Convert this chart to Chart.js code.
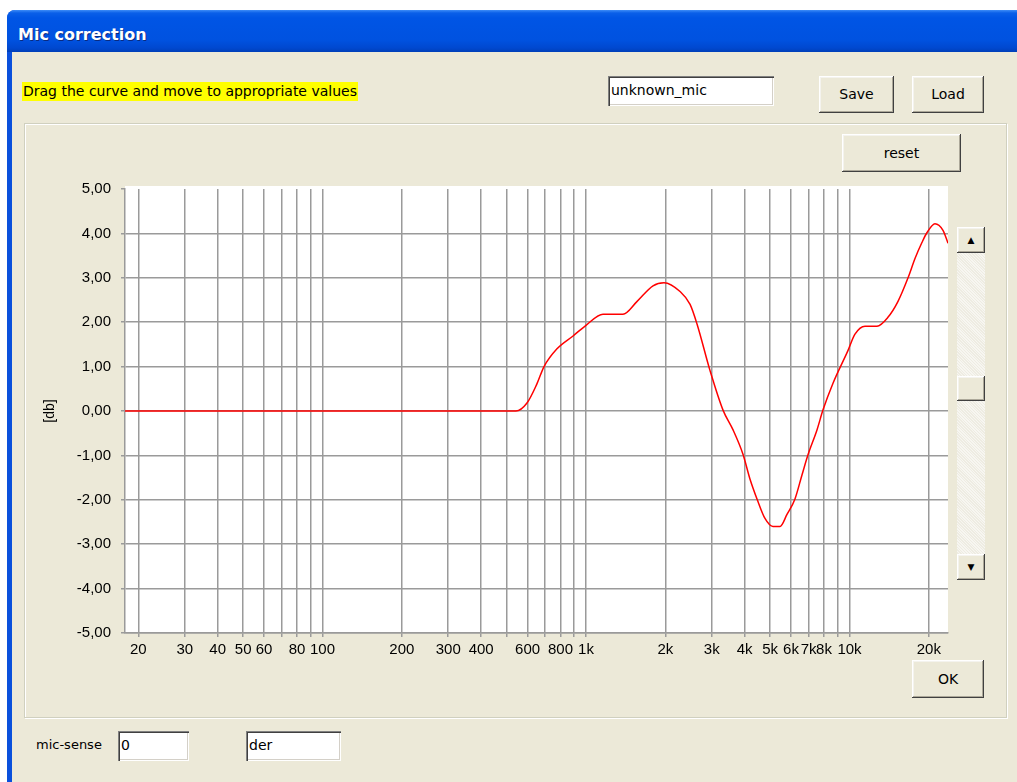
<!DOCTYPE html>
<html>
<head>
<meta charset="utf-8">
<script src="https://cdn.jsdelivr.net/npm/chart.js@4.4.0/dist/chart.umd.min.js"></script>
<style>
  body { margin: 0; background: #fff; width: 1017px; height: 782px; overflow: hidden; position: relative; font-family: "DejaVu Sans", sans-serif; }
  .win { position: absolute; left: 7px; top: 10px; width: 1030px; height: 800px; background: #0A50DC; border-radius: 8px 8px 0 0; }
  .titlebar { position: absolute; left: 0; top: 0; right: 0; height: 42px; border-radius: 8px 8px 0 0;
    background: linear-gradient(#3d8cf7 0px, #0a5fe8 3px, #0055e5 8px, #0052e0 30px, #0048cf 38px, #003fb8 42px); }
  .title { position: absolute; left: 11px; top: 15px; color: #fff; font-weight: bold; font-size: 16px; text-shadow: 1px 1px 0 #0a2a80; }
  .abs { position: absolute; }
  .hint { left: 22px; top: 82px; height: 19px; line-height: 19px; background: #ffff00; font-size: 14px; color: #000; padding: 0 1px; }
  .input { background: #fff; font-size: 14px; color: #000; box-sizing: border-box; padding-left: 3px; line-height: 28px;
    box-shadow: inset 1px 1px #808080, inset 2px 2px #404040, inset -1px -1px #ffffff, inset -2px -2px #d4d0c8; }
  .btn { background: #ECE9D8; font-size: 14px; color: #000; text-align: center; box-sizing: border-box;
    box-shadow: inset -1px -1px #404040, inset 1px 1px #ffffff, inset -2px -2px #aca899, inset 2px 2px #f4f3ee; }
  .group { left: 24px; top: 123px; width: 983px; height: 595px; box-sizing: border-box;
    border: 1px solid #d0d0bf; box-shadow: 1px 1px 0 #ffffff, inset 1px 1px 0 #ffffff; }
  .label { font-size: 13px; color: #000; }
  .scroll { left: 957px; top: 227px; width: 28px; height: 353px; background: repeating-linear-gradient(45deg, #f7f6f1 0 1px, #eeece2 1px 2px); }
  .arrow { font-size: 9px; line-height: 22px; }
  canvas { position: absolute; left: 30px; top: 170px; }
</style>
</head>
<body>
<div class="win">
  <div class="titlebar"><div class="title">Mic correction</div></div>
</div>
<div class="abs" style="left:12px;top:52px;width:1010px;height:740px;background:#ECE9D8;"></div>

<div class="abs hint">Drag the curve and move to appropriate values</div>
<div class="abs input" style="left:608px;top:76px;width:166px;height:30px;">unknown_mic</div>
<div class="abs btn" style="left:819px;top:76px;width:75px;height:37px;line-height:37px;">Save</div>
<div class="abs btn" style="left:912px;top:76px;width:72px;height:37px;line-height:37px;">Load</div>

<div class="abs group"></div>
<div class="abs btn" style="left:842px;top:134px;width:119px;height:38px;line-height:38px;">reset</div>
<div class="abs btn" style="left:912px;top:660px;width:72px;height:38px;line-height:38px;">OK</div>

<div class="abs scroll"></div>
<div class="abs btn arrow" style="left:957px;top:227px;width:28px;height:26px;line-height:26px;">&#9650;</div>
<div class="abs btn" style="left:957px;top:376px;width:28px;height:25px;"></div>
<div class="abs btn arrow" style="left:957px;top:554px;width:28px;height:26px;line-height:26px;">&#9660;</div>

<div class="abs label" style="left:36px;top:737px;">mic-sense</div>
<div class="abs input" style="left:118px;top:731px;width:71px;height:30px;">0</div>
<div class="abs input" style="left:246px;top:731px;width:95px;height:30px;">der</div>

<canvas id="micChart" width="930" height="500"></canvas>

<script>
// correction curve (Hz / dB)
const freqs = [17.8, 100, 300, 542, 597, 650, 693, 776, 893, 1000, 1160, 1381, 1563, 1796, 1977, 2275, 2483, 2638, 2956, 3311,
  3611, 3945, 4190, 4456, 4778, 5124, 5449, 5791, 6210, 6602, 6963, 7532, 7929, 8650, 9864, 10490, 11450, 12710,
  13990, 15280, 16680, 17740, 18850, 19690, 21100, 22640, 23650];
const dbValues = [0, 0, 0, 0, 0.18, 0.6, 1.0, 1.4, 1.69, 1.93, 2.18, 2.18, 2.47, 2.82, 2.89, 2.69, 2.40, 1.96, 0.91, 0.02,
  -0.42, -0.98, -1.53, -1.98, -2.42, -2.6, -2.6, -2.33, -1.98, -1.44, -0.98, -0.42, 0.02, 0.62, 1.36, 1.73, 1.91, 1.91,
  2.11, 2.47, 3.0, 3.44, 3.8, 4.02, 4.22, 4.07, 3.78];

// x grid lines and their labels ('' = line without label)
const gridFreqs = [20, 30, 40, 50, 60, 70, 80, 90, 100, 200, 300, 400, 500, 600, 700, 800, 900,
  1000, 2000, 3000, 4000, 5000, 6000, 7000, 8000, 9000, 10000, 20000];
const tickLabels = ['20', '30', '40', '50', '60', '', '80', '', '100', '200', '300', '400', '', '600', '', '800', '',
  '1k', '2k', '3k', '4k', '5k', '6k', '7k', '8k', '', '10k', '20k'];

const yMin = -5;
const yMax = 5;

const whiteArea = {
  id: 'whiteArea',
  beforeDraw(chart) {
    const { ctx, chartArea } = chart;
    ctx.save();
    ctx.fillStyle = '#ffffff';
    ctx.fillRect(chartArea.left, chartArea.top - 3, chartArea.right - chartArea.left, chartArea.bottom - chartArea.top + 3);
    ctx.restore();
  }
};

const ctx = document.getElementById('micChart').getContext('2d');
new Chart(ctx, {
  type: 'line',
  data: {
    datasets: [{
      data: freqs.map((f, i) => ({ x: f, y: dbValues[i] })),
      borderColor: '#ff0000',
      borderWidth: 1.5,
      pointRadius: 0,
      cubicInterpolationMode: 'monotone',
      fill: false
    }]
  },
  options: {
    responsive: false,
    animation: false,
    devicePixelRatio: 1,
    layout: { padding: { top: 14, right: 12, left: 0, bottom: 0 } },
    plugins: { legend: { display: false }, tooltip: { enabled: false } },
    scales: {
      x: {
        type: 'logarithmic',
        min: 17.8,
        max: 23650,
        afterBuildTicks: (scale) => { scale.ticks = gridFreqs.map(v => ({ value: v })); },
        afterFit: (scale) => { scale.height = 37; },
        ticks: {
          autoSkip: false,
          maxRotation: 0,
          padding: 4,
          color: '#000',
          font: { family: 'Liberation Sans', size: 15 },
          callback: (v, i) => tickLabels[i]
        },
        grid: { color: '#9a9a9a', lineWidth: 1.5, tickLength: 4, tickColor: '#9a9a9a' },
        border: { color: '#9a9a9a', width: 1.5 }
      },
      y: {
        min: yMin,
        max: yMax,
        afterFit: (scale) => { scale.width = 95; },
        ticks: {
          stepSize: 1,
          padding: 10,
          color: '#000',
          font: { family: 'Liberation Sans', size: 15 },
          callback: (v) => v.toFixed(2).replace('.', ',')
        },
        grid: {
          color: (c) => c.tick && c.tick.value === yMax ? 'rgba(0,0,0,0)' : '#9a9a9a',
          tickColor: '#9a9a9a',
          lineWidth: 1.5,
          tickLength: 4
        },
        border: { color: '#9a9a9a', width: 1.5 },
        title: {
          display: true,
          text: '[db]',
          color: '#000',
          font: { family: 'Liberation Sans', size: 14 },
          padding: { top: 12, bottom: 0 }
        }
      }
    }
  },
  plugins: [whiteArea]
});
</script>
</body>
</html>
